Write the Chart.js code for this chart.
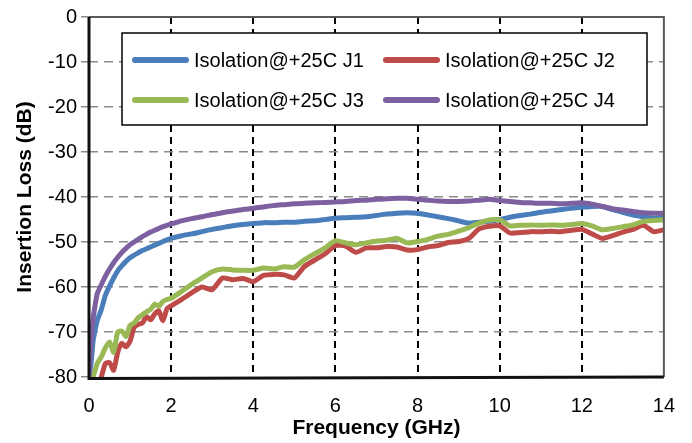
<!DOCTYPE html>
<html>
<head>
<meta charset="utf-8">
<script src="https://cdn.jsdelivr.net/npm/chart.js@4.4.1/dist/chart.umd.min.js"></script>
<style>
html,body{margin:0;padding:0;background:#fff;}
#wrap{width:692px;height:443px;position:relative;}
</style>
</head>
<body>
<div id="wrap"><canvas id="c" width="692" height="443"></canvas></div>
<script>
// ---- data (GHz, dB) ----
const freq = [0,0.05,0.1,0.15,0.2,0.3,0.4,0.5,0.6,0.7,0.8,0.9,1.0,1.1,1.2,1.3,1.4,1.5,1.6,1.7,1.8,1.9,
  2.0,2.25,2.5,2.75,3.0,3.25,3.5,3.75,4.0,4.25,4.5,4.75,5.0,5.25,5.5,5.75,6.0,6.25,6.5,6.75,7.0,7.25,7.5,7.75,
  8.0,8.25,8.5,8.75,9.0,9.25,9.5,9.75,10.0,10.25,10.5,10.75,11.0,11.25,11.5,11.75,12.0,12.25,12.5,12.75,13.0,13.25,13.5,13.75,14.0];

const seriesLabels = ["Isolation@+25C J1","Isolation@+25C J2","Isolation@+25C J3","Isolation@+25C J4"];

const j1 = [-80,-77,-72,-69.5,-67.5,-65,-61.8,-59.8,-58.0,-56.4,-55.3,-54.3,-53.5,-52.9,-52.4,-51.9,-51.5,-51.1,-50.7,-50.3,-49.9,-49.5,
  -49.2,-48.6,-48.2,-47.7,-47.2,-46.8,-46.4,-46.1,-45.9,-45.7,-45.7,-45.6,-45.6,-45.4,-45.3,-45.0,-44.7,-44.6,-44.5,-44.4,-44.1,-43.8,-43.6,-43.5,
  -43.6,-44.0,-44.4,-44.8,-45.3,-45.8,-45.6,-45.4,-45.0,-44.5,-44.1,-43.8,-43.4,-43.1,-42.8,-42.5,-42.3,-42.1,-42.1,-42.8,-43.4,-44.0,-44.4,-44.7,-44.4];

const j2 = [null,null,null,null,null,-80,-77,-76.8,-78.5,-74.5,-72.5,-73.3,-72.0,-69.0,-68.3,-68.0,-66.6,-67.3,-66.0,-65.3,-67.5,-64.8,
  -64.2,-62.8,-61.3,-60.0,-60.6,-58.0,-58.4,-58.1,-58.8,-57.4,-57.2,-57.3,-58.0,-55.4,-54.0,-52.6,-50.8,-50.9,-52.3,-51.3,-51.3,-51.0,-51.1,-51.8,
  -51.7,-51.1,-50.8,-50.1,-49.9,-49.2,-47.1,-46.5,-46.4,-48.0,-47.9,-47.7,-47.7,-47.6,-47.7,-47.4,-47.2,-48.2,-49.2,-48.6,-47.8,-47.2,-46.3,-47.7,-47.3];

const j3 = [null,null,-80,-78.5,-77,-75.5,-73.5,-72.2,-74.5,-70.0,-69.8,-71.0,-68.5,-68.0,-66.8,-66.2,-65.5,-65.0,-63.8,-64.3,-63.2,-62.8,
  -62.5,-61.0,-59.4,-58.0,-56.6,-56.0,-56.2,-56.3,-56.3,-55.8,-56.0,-55.5,-55.6,-53.9,-52.6,-51.3,-49.7,-50.2,-50.6,-50.2,-49.8,-49.6,-49.2,-50.2,
  -49.9,-49.4,-48.7,-48.3,-47.6,-46.8,-45.8,-45.1,-45.1,-46.4,-46.3,-46.2,-46.3,-46.2,-46.3,-46.1,-45.9,-46.4,-47.3,-47.0,-46.6,-46.2,-45.4,-45.2,-45.1];

const j4 = [-80,-72,-67,-64,-61.5,-59.5,-57.6,-56,-54.6,-53.4,-52.3,-51.4,-50.6,-50.0,-49.4,-48.8,-48.3,-47.8,-47.4,-47.0,-46.6,-46.3,
  -46.0,-45.3,-44.8,-44.4,-43.9,-43.5,-43.1,-42.8,-42.5,-42.2,-41.9,-41.7,-41.5,-41.4,-41.3,-41.2,-41.1,-41.0,-40.8,-40.7,-40.5,-40.4,-40.3,-40.3,
  -40.5,-40.7,-40.9,-41.0,-41.0,-40.9,-40.7,-40.5,-40.8,-41.0,-41.2,-41.3,-41.4,-41.4,-41.5,-41.4,-41.3,-41.6,-42.1,-42.6,-42.9,-43.2,-43.5,-43.6,-43.6];

const xTicks = [0,2,4,6,8,10,12,14];
const yTicks = [0,-10,-20,-30,-40,-50,-60,-70,-80];

const colors = ['#4a7ebb','#be4b48','#98b954','#7d60a0'];
const values = [j1,j2,j3,j4];

Chart.defaults.font.family = "'Liberation Sans', Arial, sans-serif";
Chart.defaults.color = '#000';

const datasets = values.map((arr, k) => ({
  label: seriesLabels[k],
  data: freq.map((f, i) => ({x: f, y: arr[i]})),
  borderColor: colors[k],
  backgroundColor: colors[k],
  borderWidth: 5,
  pointRadius: 0,
  tension: 0.2,
  fill: false,
  order: 4 - k,
  borderCapStyle: 'round',
  borderJoinStyle: 'round'
}));

const framePlugin = {
  id: 'frameAndLegend',
  afterDatasetsDraw(chart) {
    const {ctx, chartArea: {left, top, right, bottom}} = chart;
    ctx.save();
    ctx.setLineDash([]);
    ctx.strokeStyle = '#5a5a5a';
    ctx.lineWidth = 2;
    ctx.beginPath();
    ctx.moveTo(left, top); ctx.lineTo(right, top); ctx.lineTo(right, bottom);
    ctx.stroke();
    ctx.strokeStyle = '#111';
    ctx.lineWidth = 3;
    ctx.beginPath();
    ctx.moveTo(left, top); ctx.lineTo(left, bottom + 1.5); ctx.lineTo(right, bottom);
    ctx.stroke();

    // legend box inside plot area
    const bx = 122, by = 33, bw = 525, bh = 92;
    ctx.fillStyle = '#fff';
    ctx.fillRect(bx, by, bw, bh);
    ctx.strokeStyle = '#000';
    ctx.lineWidth = 1.5;
    ctx.strokeRect(bx, by, bw, bh);
    const cols = [bx + 10, bx + 261];
    const rows = [by + 27, by + 67];
    ctx.font = "20px 'Liberation Sans', Arial, sans-serif";
    ctx.textBaseline = 'middle';
    ctx.textAlign = 'left';
    chart.data.datasets.forEach((ds, i) => {
      const cx = cols[i % 2], cy = rows[Math.floor(i / 2)];
      ctx.strokeStyle = ds.borderColor;
      ctx.lineWidth = 6;
      ctx.lineCap = 'round';
      ctx.beginPath();
      ctx.moveTo(cx + 3, cy); ctx.lineTo(cx + 54, cy);
      ctx.stroke();
      ctx.fillStyle = '#000';
      ctx.fillText(ds.label, cx + 62, cy + 1);
    });
    ctx.restore();
  }
};

new Chart(document.getElementById('c'), {
  type: 'line',
  data: { datasets },
  options: {
    responsive: false,
    animation: false,
    layout: { padding: { top: 17, right: 28, left: 0, bottom: 0 } },
    plugins: { legend: { display: false }, tooltip: { enabled: false } },
    scales: {
      x: {
        type: 'linear',
        min: 0, max: 14,
        afterBuildTicks: s => { s.ticks = xTicks.map(v => ({value: v})); },
        afterFit: s => { s.height = 66; },
        ticks: { font: { size: 20 }, padding: 17, maxRotation: 0, color: '#000' },
        grid: {
          color: c => (c.tick && (c.tick.value === 0 || c.tick.value === 14)) ? 'rgba(0,0,0,0)' : '#000',
          lineWidth: 2,
          drawTicks: false
        },
        border: { display: false, dash: [7, 5] },
        title: {
          display: true, text: 'Frequency (GHz)',
          font: { size: 21, weight: 'bold' }, color: '#000',
          padding: { top: 0, bottom: 2 }
        }
      },
      y: {
        type: 'linear',
        min: -80, max: 0,
        afterBuildTicks: s => { s.ticks = yTicks.map(v => ({value: v})); },
        afterFit: s => { s.width = 89; },
        ticks: { font: { size: 20 }, padding: 4, color: '#000' },
        grid: {
          color: c => (c.tick && (c.tick.value === 0 || c.tick.value === -80)) ? 'rgba(0,0,0,0)' : '#8a8a8a',
          lineWidth: 1.5,
          drawTicks: true,
          tickLength: 8,
          tickColor: '#8a8a8a',
          tickWidth: 1.5
        },
        border: { display: false, dash: [9, 6] },
        title: {
          display: true, text: 'Insertion Loss (dB)',
          font: { size: 21, weight: 'bold' }, color: '#000',
          padding: { top: 13, bottom: 0 }
        }
      }
    }
  },
  plugins: [framePlugin]
});
</script>
</body>
</html>
